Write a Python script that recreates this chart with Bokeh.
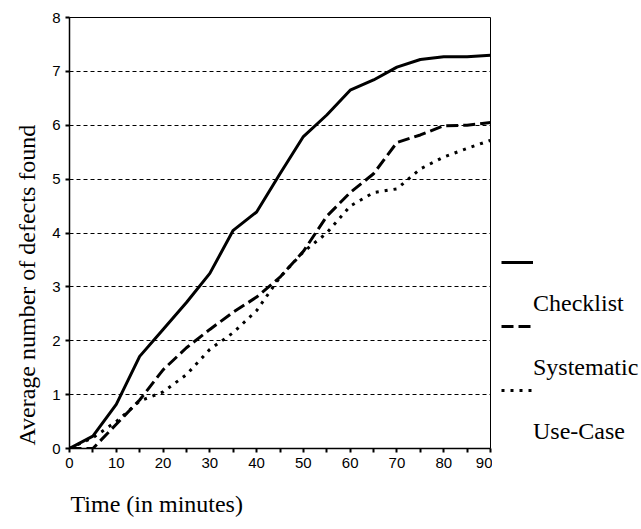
from bokeh.plotting import figure
from bokeh.layouts import row
from bokeh.models import Range1d, FixedTicker, Title, Legend, LegendItem
from bokeh.core.properties import value
from bokeh.embed import file_html
from bokeh.resources import INLINE

# ---- data ----
minutes = [0, 5, 10, 15, 20, 25, 30, 35, 40, 45, 50, 55, 60, 65, 70, 75, 80, 85, 90]
checklist = [0.0, 0.23, 0.82, 1.71, 2.21, 2.71, 3.25, 4.05, 4.39, 5.10, 5.79,
             6.19, 6.65, 6.84, 7.08, 7.22, 7.27, 7.27, 7.30]
systematic = [0.0, 0.0, 0.45, 0.90, 1.46, 1.87, 2.21, 2.53, 2.81, 3.18, 3.66,
              4.31, 4.75, 5.10, 5.68, 5.82, 5.99, 6.00, 6.05]
use_case = [0.0, 0.20, 0.50, 0.88, 1.05, 1.37, 1.84, 2.15, 2.56, 3.18, 3.65,
            4.00, 4.50, 4.75, 4.82, 5.19, 5.41, 5.57, 5.72]
series_names = ["Checklist", "Systematic", "Use-Case"]
series_dash = ["solid", "12 5", "3 6"]
x_ticks = [0, 10, 20, 30, 40, 50, 60, 70, 80, 90]
x_minor_ticks = [5, 15, 25, 35, 45, 55, 65, 75, 85]
y_ticks = [0, 1, 2, 3, 4, 5, 6, 7, 8]
grid_levels = [1, 2, 3, 4, 5, 6, 7]
x_title = "Time (in minutes)"
y_title = "Average number of defects found"

SERIF = "Liberation Serif"
SANS = "Liberation Sans"

p = figure(frame_width=421, frame_height=431,
           x_range=Range1d(0, 90), y_range=Range1d(0, 8),
           output_backend="svg", toolbar_location=None,
           min_border_left=69, min_border_right=2,
           min_border_top=17, min_border_bottom=81,
           background_fill_color="white", border_fill_color="white",
           outline_line_color="black", outline_line_width=1)

series = [checklist, systematic, use_case]
for vals, dash in zip(series, series_dash):
    p.line(minutes, vals, line_color="black", line_width=3, line_dash=dash)

p.xaxis.ticker = FixedTicker(ticks=x_ticks, minor_ticks=x_minor_ticks)
p.yaxis.ticker = FixedTicker(ticks=y_ticks)
p.xgrid.visible = False
p.ygrid.ticker = FixedTicker(ticks=grid_levels)
p.ygrid.grid_line_color = "black"
p.ygrid.grid_line_dash = "4 3"
p.ygrid.grid_line_width = 1

for ax in (p.xaxis, p.yaxis):
    ax.axis_line_color = "black"
    ax.axis_line_width = 1.5
    ax.major_tick_in = 0
    ax.major_tick_out = 4
    ax.major_tick_line_color = "black"
    ax.major_tick_line_width = 2
    ax.minor_tick_in = 0
    ax.minor_tick_line_color = "black"
    ax.minor_tick_line_width = 2
    ax.major_label_text_font = SANS
    ax.major_label_text_font_size = "15px"
    ax.major_label_text_color = "black"
    ax.major_label_standoff = 5
p.xaxis.minor_tick_out = 4
p.yaxis.minor_tick_out = 0

yt = Title(text=y_title, align="left", offset=3, standoff=20, text_font=SERIF,
           text_font_size="24px", text_font_style="normal", text_color="black")
p.add_layout(yt, "left")
xt = Title(text=x_title, align="left", offset=1, standoff=36, text_font=SERIF,
           text_font_size="24px", text_font_style="normal", text_color="black")
p.add_layout(xt, "below")

# ---- legend panel to the right of the plot ----
leg = figure(width=147, height=529, x_range=Range1d(0, 1), y_range=Range1d(0, 1),
             output_backend="svg", toolbar_location=None,
             x_axis_location=None, y_axis_location=None,
             min_border_left=0, min_border_right=0, min_border_top=0, min_border_bottom=0,
             outline_line_color=None, background_fill_color="white",
             border_fill_color="white")
leg.grid.visible = False
nan = float("nan")
samples = [leg.line(x=[nan], y=[nan], line_color="black", line_width=3, line_dash=d)
           for d in series_dash]

common = dict(orientation="vertical", margin=0, padding=0,
              border_line_alpha=0, background_fill_alpha=0,
              label_text_font=SERIF, label_text_font_size="24px",
              label_text_color="black", glyph_height=30, label_height=30,
              spacing=34, label_standoff=0, label_width=0)
leg_lines = Legend(items=[LegendItem(label=value(" "), renderers=[r]) for r in samples],
                   location=(9, 38), glyph_width=32, **common)
leg_names = Legend(items=[LegendItem(label=value(n), renderers=[r])
                          for n, r in zip(series_names, samples)],
                   location=(41, -3), glyph_width=0, **common)
leg.add_layout(leg_lines, "center")
leg.add_layout(leg_names, "center")

layout = row(p, leg)
open("out.html", "w").write(file_html(layout, INLINE))
